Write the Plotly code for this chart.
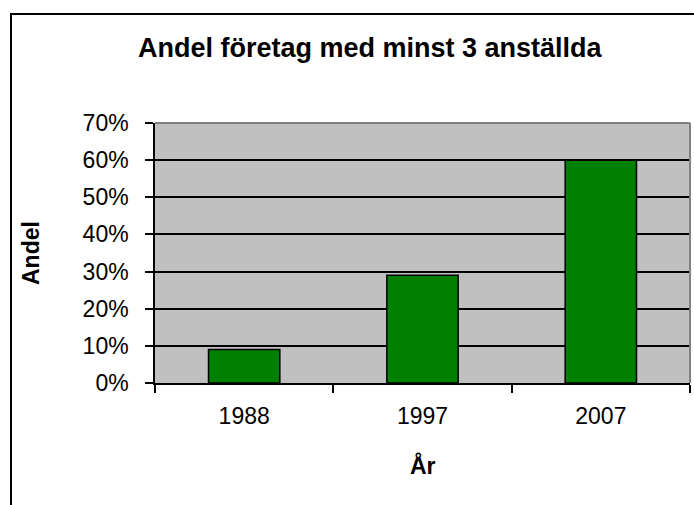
import plotly.graph_objects as go

years = ["1988", "1997", "2007"]
shares = [0.09, 0.29, 0.60]
tick_vals = [0, 0.1, 0.2, 0.3, 0.4, 0.5, 0.6, 0.7]
tick_text = ["0%", "10%", "20%", "30%", "40%", "50%", "60%", "70%"]

title_text = "<b>Andel företag med minst 3 anställda</b>"
x_title = "<b>År</b>"
y_title = "<b>Andel</b>"

W, H = 694, 505
L, R, T, B = 155, 4, 123, 122
pw, ph = W - L - R, H - T - B

def px(x):
    return (x - L) / pw

def py(y):
    return (H - B - y) / ph

FONT = "Arial, Liberation Sans, sans-serif"

fig = go.Figure(go.Bar(
    x=years, y=shares,
    marker=dict(color="#008000", line=dict(color="black", width=1.5)),
    width=0.4,
))

fig.update_layout(
    width=W, height=H,
    margin=dict(l=L, r=R, t=T, b=B, pad=0),
    paper_bgcolor="white",
    plot_bgcolor="#C0C0C0",
    showlegend=False,
    font=dict(family=FONT, color="black", size=23),
    xaxis=dict(
        type="category",
        tickson="boundaries",
        ticks="outside", ticklen=8, tickwidth=1.5, tickcolor="black",
        showline=True, linecolor="black", linewidth=1.5,
        showgrid=False,
        tickfont=dict(size=23),
        ticklabelstandoff=12,
    ),
    yaxis=dict(
        range=[0, 0.7],
        tickvals=tick_vals, ticktext=tick_text,
        ticks="outside", ticklen=8, tickwidth=1.5, tickcolor="black",
        showline=True, linecolor="black", linewidth=1.5,
        showgrid=True, gridcolor="black", gridwidth=1.5,
        zeroline=False,
        tickfont=dict(size=23),
        ticklabelstandoff=12,
    ),
    annotations=[
        dict(text=title_text, xref="paper", yref="paper",
             x=px(370), y=py(48), xanchor="center", yanchor="middle",
             showarrow=False, font=dict(size=27, family=FONT)),
        dict(text=x_title, xref="paper", yref="paper",
             x=0.5, y=py(465), xanchor="center", yanchor="middle",
             showarrow=False, font=dict(size=23, family=FONT)),
        dict(text=y_title, xref="paper", yref="paper",
             x=px(31), y=0.5, xanchor="center", yanchor="middle",
             textangle=-90,
             showarrow=False, font=dict(size=23, family=FONT)),
    ],
    shapes=[
        # outer chart border
        dict(type="rect", xref="paper", yref="paper",
             x0=px(11), x1=px(W + 40), y0=py(14), y1=py(H + 40),
             line=dict(color="black", width=2), layer="above"),
        # plot area top and right border (gray)
        dict(type="line", xref="paper", yref="paper",
             x0=0, x1=1, y0=1, y1=1,
             line=dict(color="#808080", width=2), layer="above"),
        dict(type="line", xref="paper", yref="paper",
             x0=1, x1=1, y0=0, y1=1,
             line=dict(color="#808080", width=2), layer="above"),
    ],
)

fig.write_html(
    "out.html",
    config={"displayModeBar": False},
    post_script="document.body.style.margin='0';document.body.style.overflow='hidden';",
)
